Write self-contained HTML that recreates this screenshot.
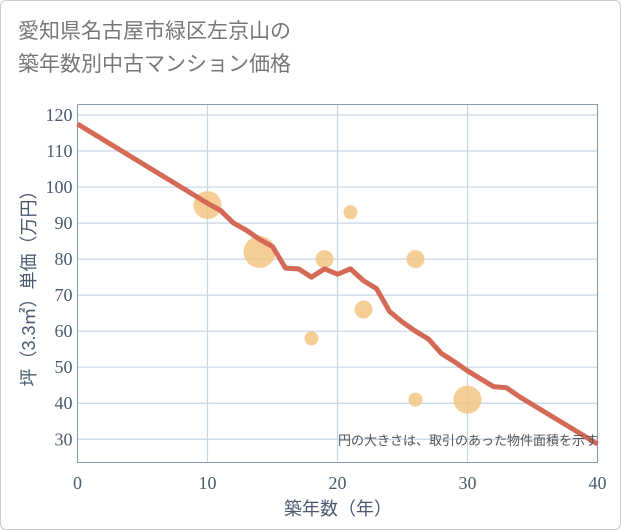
<!DOCTYPE html>
<html><head><meta charset="utf-8"><style>
body{margin:0;background:#fff;font-family:"Liberation Sans","Noto Sans CJK JP",sans-serif;}
#wrap{position:relative;width:619px;height:528px;border:1px solid #ccc;border-radius:6px;overflow:hidden;}
#title{position:absolute;left:17px;top:14px;font-size:21px;line-height:33px;color:#777;}
</style></head><body>
<div id="wrap">
<div id="title">愛知県名古屋市緑区左京山の<br>築年数別中古マンション価格</div>
<svg id="chart" width="621" height="530" style="position:absolute;left:0;top:0"></svg>
</div>
<script>
const xTicks=[0,10,20,30,40];
const yTicks=[30,40,50,60,70,80,90,100,110,120];
const lineYears=[0,10,11,12,13,14,15,16,17,18,19,20,21,22,23,24,25,26,27,28,29,30,31,32,33,34,40];
const lineValues=[117.5,95.5,93.5,90,88,85.5,83.5,77.5,77.3,75,77.3,75.8,77.3,74,71.8,65.5,62.5,60,57.8,53.8,51.5,49,46.8,44.6,44.3,41.8,28.7];
const bubbleYears=[10,14,19,21,26,22,18,26,30];
const bubbleValues=[95,82,80,93,80,66,58,41,41];
const bubbleSizes=[14,16,9,7,9,9,7,7,14];
const NS="http://www.w3.org/2000/svg";
const svg=document.getElementById('chart');
const L=76.5,R=596.5,T=103.5,B=461.5;
const xs=v=>L+(v-0)/40*(R-L);
const ys=v=>114+(120-v)*3.603;
function mk(t,a,p){const e=document.createElementNS(NS,t);for(const k in a)e.setAttribute(k,a[k]);(p||svg).appendChild(e);return e;}
const bg=mk('rect',{x:L,y:T,width:R-L,height:B-T,fill:'#fff'});


yTicks.forEach(v=>{
 const g=mk('line',{x1:L,x2:R,y1:ys(v),y2:ys(v),stroke:'#c5d5e5','stroke-width':1.2});
 
 
 const t=mk('text',{x:L-5,y:ys(v)+6,'text-anchor':'end','font-size':18,fill:'#4a5a70','font-family':'Liberation Serif, serif'});
 t.textContent=v;
 
 
});
xTicks.forEach(v=>{
 const g=mk('line',{x1:xs(v),x2:xs(v),y1:T,y2:B,stroke:'#c5d5e5','stroke-width':1.2});
 
 
 const t=mk('text',{x:xs(v),y:488,'text-anchor':'middle','font-size':18,fill:'#4a5a70','font-family':'Liberation Serif, serif'});
 t.textContent=v;
 
 
});
const fr=mk('rect',{x:L,y:T,width:R-L,height:B-T,fill:'none',stroke:'#8a9ab0','stroke-width':1});


bubbleYears.forEach((yr,i)=>{
 const c=mk('circle',{cx:xs(yr),cy:ys(bubbleValues[i]),r:bubbleSizes[i],fill:'#f2c27a','fill-opacity':0.8});
 
 
});
const pts=lineYears.map((y,i)=>xs(y)+','+ys(lineValues[i])).join(' ');
const pl=mk('polyline',{points:pts,fill:'none',stroke:'#d46a55','stroke-width':5,'stroke-linejoin':'round'});


const note=mk('text',{x:597,y:444,'text-anchor':'end','font-size':13,fill:'#555'});
note.textContent='円の大きさは、取引のあった物件面積を示す';


const xt=mk('text',{x:337,y:514,'text-anchor':'middle','font-size':18,fill:'#4a5a70'});
xt.textContent='築年数（年）';


const yt=mk('text',{x:0,y:0,'text-anchor':'middle','font-size':18,fill:'#4a5a70',transform:'translate(34,283) rotate(-90)'});
yt.textContent='坪（3.3㎡）単価（万円）';


</script>
</body></html>
